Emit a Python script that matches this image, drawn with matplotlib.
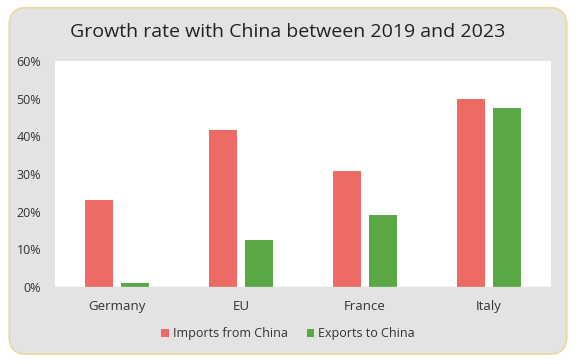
import matplotlib
matplotlib.use("Agg")
import matplotlib.pyplot as plt
from matplotlib.patches import FancyBboxPatch
import numpy as np

plt.rcParams['font.family'] = ['Open Sans', 'DejaVu Sans']

categories = ["Germany", "EU", "France", "Italy"]
imports = [23.0, 41.7, 30.8, 50.0]
exports = [1.0, 12.5, 19.2, 47.6]
yticks = [0, 10, 20, 30, 40, 50, 60]
title = "Growth rate with China between 2019 and 2023"

fig = plt.figure(figsize=(5.76, 3.64), dpi=100)
fig.patch.set_facecolor("white")
bg = FancyBboxPatch((0.016, 0.027), 0.968, 0.952, boxstyle="round,pad=0,rounding_size=0.03",
                    transform=fig.transFigure, facecolor="#E3E3E3", edgecolor="#EAD9A0",
                    linewidth=1.2, mutation_aspect=576/364, zorder=-10)
fig.patches.append(bg)

ax = fig.add_axes([55/576, 1-287/364, (551-55)/576, (287-61)/364])
ax.set_zorder(1)
ax.set_facecolor("white")
x = np.arange(len(categories))
w = 0.225
ax.bar(x - 0.145, imports, w, color="#EE6A65", label="Imports from China")
ax.bar(x + 0.145, exports, w, color="#5AA745", label="Exports to China")
ax.set_xlim(-0.5, len(categories) - 0.5)
ax.set_ylim(0, 60)
ax.set_yticks(yticks)
ax.set_yticklabels([f"{t}%" for t in yticks], fontsize=9, color="#333333")
ax.set_xticks(x)
ax.set_xticklabels(categories, fontsize=9.5, color="#333333")
ax.tick_params(axis="both", length=0)
ax.tick_params(axis="x", pad=9.5)
ax.tick_params(axis="y", pad=10)
for s in ax.spines.values():
    s.set_visible(False)
ax.axhline(0, color="#D9D9D9", linewidth=1)

fig.text(0.5, 1-32/364, title, ha="center", va="center", fontsize=14, color="#222222")
fig.legend(loc="center", bbox_to_anchor=(0.5, 1-334/364), ncol=2, frameon=False,
           fontsize=9, handlelength=0.6, handleheight=0.6, handletextpad=0.35,
           columnspacing=1.5, labelcolor="#333333")

fig.savefig("out.png", dpi=100)
